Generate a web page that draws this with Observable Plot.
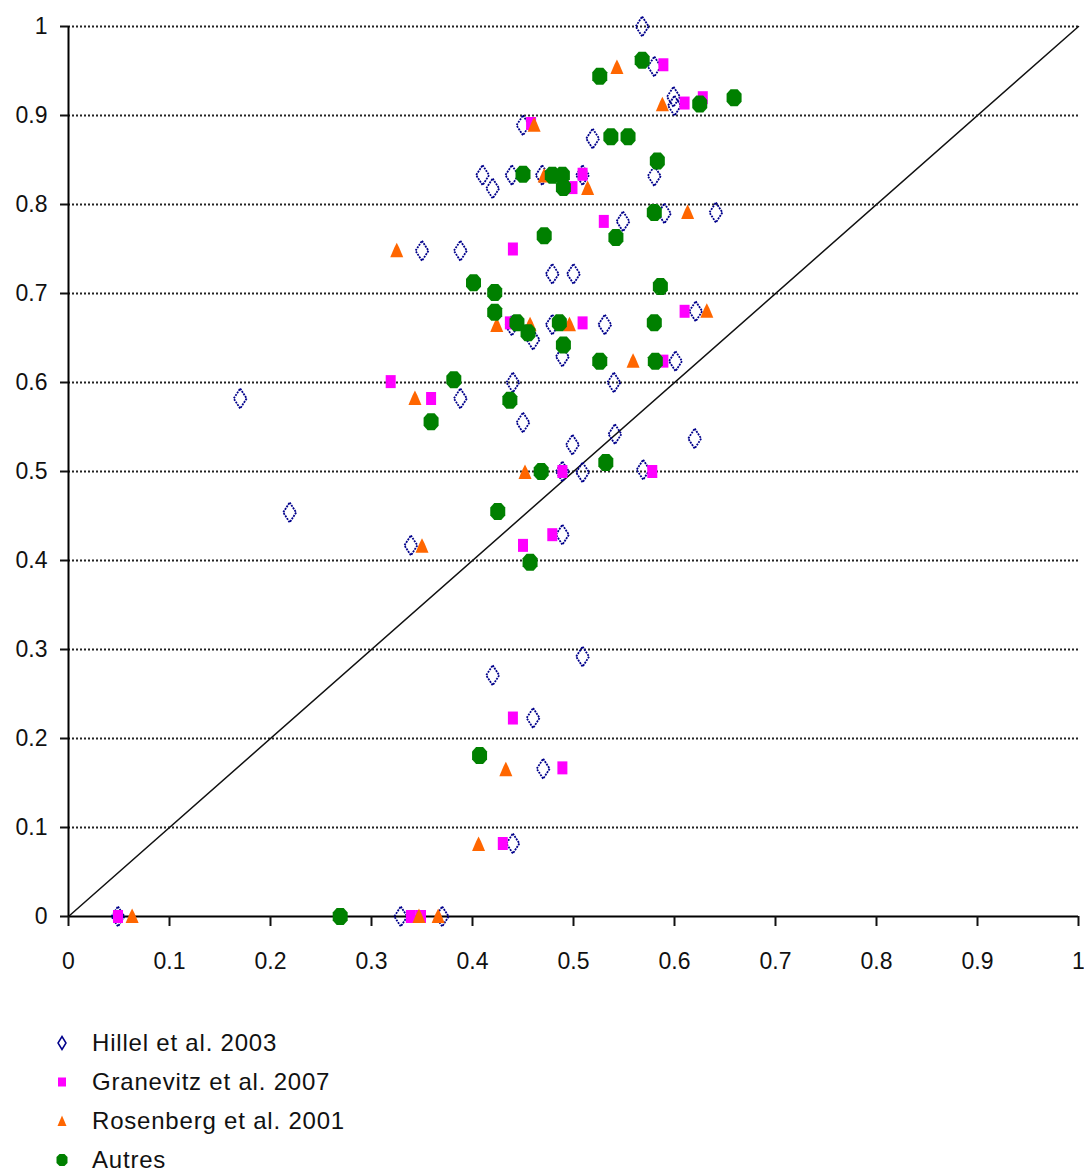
<!DOCTYPE html>
<html>
<head>
<meta charset="utf-8">
<script src="https://cdn.jsdelivr.net/npm/d3@7"></script>
<script src="https://cdn.jsdelivr.net/npm/@observablehq/plot@0.6"></script>
<style>
  body { margin: 0; background: #fff; }
  #legend { font-family: "Liberation Sans", Arial, sans-serif; font-size: 24px; letter-spacing: 0.8px; color: #111; padding-top: 23px; }
  .row { height: 39px; display: flex; align-items: center; }
  .row svg { margin-left: 50px; margin-right: 18px; }
</style>
</head>
<body>
<div id="chart"></div>
<div id="legend"></div>
<script>
// Series: [x, y]
const hillel = [
  [0.568,1.0],[0.580,0.955],[0.599,0.921],[0.600,0.911],[0.450,0.889],[0.519,0.874],
  [0.410,0.833],[0.420,0.818],[0.439,0.833],[0.469,0.833],[0.509,0.833],[0.580,0.832],
  [0.590,0.790],[0.641,0.791],[0.549,0.781],[0.350,0.748],[0.388,0.748],[0.479,0.722],
  [0.500,0.722],[0.621,0.680],[0.439,0.664],[0.460,0.648],[0.479,0.665],[0.531,0.665],
  [0.489,0.629],[0.601,0.624],[0.440,0.600],[0.540,0.600],[0.170,0.582],[0.388,0.582],
  [0.450,0.555],[0.541,0.542],[0.620,0.537],[0.499,0.530],[0.509,0.499],[0.569,0.502],
  [0.489,0.500],[0.219,0.454],[0.339,0.417],[0.489,0.429],[0.509,0.292],[0.420,0.271],
  [0.460,0.223],[0.470,0.166],[0.440,0.082],[0.049,0],[0.329,0],[0.370,0]
];
const granevitz = [
  [0.589,0.957],[0.610,0.914],[0.628,0.920],[0.458,0.891],[0.499,0.819],[0.509,0.834],
  [0.530,0.781],[0.440,0.750],[0.610,0.680],[0.437,0.667],[0.509,0.667],[0.589,0.624],
  [0.319,0.601],[0.359,0.582],[0.489,0.500],[0.578,0.500],[0.479,0.429],[0.450,0.417],
  [0.440,0.223],[0.489,0.167],[0.430,0.082],[0.049,0],[0.339,0],[0.349,0]
];
const rosenberg = [
  [0.543,0.954],[0.588,0.912],[0.461,0.889],[0.471,0.832],[0.514,0.818],[0.613,0.791],
  [0.325,0.748],[0.632,0.680],[0.424,0.664],[0.457,0.665],[0.496,0.665],[0.559,0.624],
  [0.343,0.582],[0.452,0.499],[0.350,0.416],[0.433,0.165],[0.406,0.081],[0.063,0],
  [0.347,0],[0.366,0]
];
const autres = [
  [0.568,0.962],[0.526,0.944],[0.625,0.913],[0.659,0.920],[0.537,0.876],[0.554,0.876],
  [0.583,0.849],[0.450,0.834],[0.479,0.833],[0.489,0.833],[0.490,0.819],[0.580,0.791],
  [0.542,0.763],[0.471,0.765],[0.401,0.712],[0.422,0.701],[0.586,0.708],[0.422,0.679],
  [0.444,0.667],[0.455,0.656],[0.486,0.667],[0.580,0.667],[0.490,0.642],[0.526,0.624],
  [0.581,0.624],[0.3815,0.603],[0.437,0.580],[0.359,0.556],[0.532,0.510],[0.468,0.500],
  [0.425,0.455],[0.457,0.398],[0.407,0.181],[0.269,0]
];
const seriesNames = ["Hillel et al. 2003", "Granevitz et al. 2007", "Rosenberg et al. 2001", "Autres"];
const tickValues = [0, 0.1, 0.2, 0.3, 0.4, 0.5, 0.6, 0.7, 0.8, 0.9, 1];
const gridValues = [0.1, 0.2, 0.3, 0.4, 0.5, 0.6, 0.7, 0.8, 0.9, 1];
const diagonal = [0, 1];

// custom marker shapes
const diamondSym = { draw(c) { c.moveTo(0,-10); c.lineTo(6.5,0); c.lineTo(0,10); c.lineTo(-6.5,0); c.closePath(); } };
const squareSym = { draw(c) { c.moveTo(-5,-6.5); c.lineTo(5,-6.5); c.lineTo(5,6.5); c.lineTo(-5,6.5); c.closePath(); } };
const triSym = { draw(c) { c.moveTo(0,-8); c.lineTo(2.5,-3); c.lineTo(6.5,6.5); c.lineTo(-6.5,6.5); c.lineTo(-2.5,-3); c.closePath(); } };
const octSym = { draw(c) { c.moveTo(-3.5,-8.5); c.lineTo(3.5,-8.5); c.lineTo(7.5,-4); c.lineTo(7.5,4); c.lineTo(3.5,8.5); c.lineTo(-3.5,8.5); c.lineTo(-7.5,4); c.lineTo(-7.5,-4); c.closePath(); } };

const font = "Liberation Sans, Arial, sans-serif";

const plot = Plot.plot({
  width: 1084,
  height: 1000,
  marginTop: 26,
  marginBottom: 84,
  marginLeft: 68,
  marginRight: 6,
  style: { fontFamily: font, fontSize: "23px", color: "#111", background: "#fff" },
  x: { domain: [0, 1] },
  y: { domain: [0, 1] },
  marks: [
    Plot.ruleY(gridValues, { stroke: "#222", strokeWidth: 2, strokeDasharray: "2,2" }),
    Plot.line(diagonal, { x: d => d, y: d => d, stroke: "#111", strokeWidth: 1.5 }),
    Plot.ruleY([0], { stroke: "#000", strokeWidth: 2 }),
    Plot.ruleX([0], { stroke: "#000", strokeWidth: 2 }),
    Plot.axisX(tickValues, { tickSize: 10, tickPadding: 26, strokeWidth: 2, tickFormat: d => String(+d.toFixed(1)), label: null }),
    Plot.axisY(tickValues, { tickSize: 8, tickPadding: 13, strokeWidth: 2, tickFormat: d => String(+d.toFixed(1)), label: null }),
    Plot.dot(hillel, { x: d => d[0], y: d => d[1], symbol: diamondSym, r: 6, fill: "white", fillOpacity: 0, stroke: "#00008b", strokeWidth: 1.8, strokeDasharray: "2,1" }),
    Plot.dot(granevitz, { x: d => d[0], y: d => d[1], symbol: squareSym, r: 6, fill: "#ff00ff", stroke: "none" }),
    Plot.dot(rosenberg, { x: d => d[0], y: d => d[1], symbol: triSym, r: 6, fill: "#ff6600", stroke: "none" }),
    Plot.dot(autres, { x: d => d[0], y: d => d[1], symbol: octSym, r: 6, fill: "#008000", stroke: "none" })
  ]
});
document.getElementById("chart").appendChild(plot);

// legend
const legendShapes = [
  `<path d="M0,-6.5L4,0L0,6.5L-4,0Z" fill="none" stroke="#00008b" stroke-width="1.5"/>`,
  `<rect x="-4" y="-4.5" width="8" height="9" fill="#ff00ff"/>`,
  `<path d="M0,-5.5L1.5,-2L4.5,5L-4.5,5L-1.5,-2Z" fill="#ff6600"/>`,
  `<path d="M-2.5,-6L2.5,-6L5.5,-3L5.5,3L2.5,6L-2.5,6L-5.5,3L-5.5,-3Z" fill="#008000"/>`
];
const legend = document.getElementById("legend");
seriesNames.forEach((name, i) => {
  const row = document.createElement("div");
  row.className = "row";
  row.innerHTML = `<svg width="24" height="24" viewBox="-12 -12 24 24">${legendShapes[i]}</svg><span>${name}</span>`;
  legend.appendChild(row);
});
</script>
</body>
</html>
